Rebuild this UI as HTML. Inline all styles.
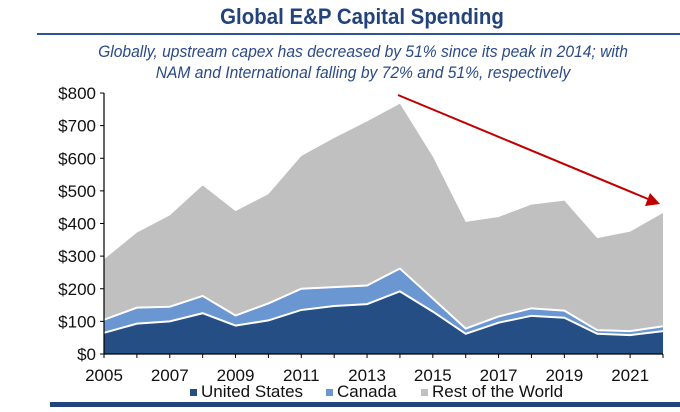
<!DOCTYPE html>
<html><head><meta charset="utf-8"><style>
body{margin:0;background:#fff;width:680px;height:407px;overflow:hidden;font-family:"Liberation Sans",sans-serif}
svg text{font-family:"Liberation Sans",sans-serif}
</style></head><body>
<svg id="c" width="680" height="407">
<text x="362" y="24" text-anchor="middle" font-size="22" font-weight="bold" fill="#23437c" transform="translate(362,0) scale(0.93,1) translate(-362,0)">Global E&amp;P Capital Spending</text>
<rect x="37" y="33" width="643" height="2" fill="#2f5496"/>
<text x="363" y="57" text-anchor="middle" font-size="17" font-style="italic" fill="#2b4a86" transform="translate(363,0) scale(0.92,1) translate(-363,0)">Globally, upstream capex has decreased by 51% since its peak in 2014; with</text>
<text x="363" y="78" text-anchor="middle" font-size="17" font-style="italic" fill="#2b4a86" transform="translate(363,0) scale(0.92,1) translate(-363,0)">NAM and International falling by 72% and 51%, respectively</text>
<g id="plot"></g>
<rect x="50" y="402" width="630" height="5" fill="#23437c"/>
</svg>
<script>
const years=[2005,2006,2007,2008,2009,2010,2011,2012,2013,2014,2015,2016,2017,2018,2019,2020,2021,2022];
const unitedStates=[65,93,100,125,87,103,135,147,153,192,130,62,96,117,111,62,58,70];
const canada=[40,49,45,53,31,52,65,58,57,70,40,16,19,23,22,11,12,15];
const restOfWorld=[185,230,280,339,320,335,407,457,503,505,435,327,305,318,337,282,305,347];
const yTicks=[0,100,200,300,400,500,600,700,800];
const xTickYears=[2005,2007,2009,2011,2013,2015,2017,2019,2021];
const NS='http://www.w3.org/2000/svg';
const g=document.getElementById('plot');
const x0=104,x1=663,yb=354,yt=93;
const X=y=>x0+(y-years[0])/(years[years.length-1]-years[0])*(x1-x0);
const Y=v=>yb-v/800*(yb-yt);
function mk(t,a){const e=document.createElementNS(NS,t);for(const k in a)e.setAttribute(k,a[k]);g.appendChild(e);return e;}
const s1=unitedStates.slice(),s2=unitedStates.map((v,i)=>v+canada[i]),s3=s2.map((v,i)=>v+restOfWorld[i]);
function area(top,bot,fill,name){
  let d='M'+years.map((y,i)=>X(y)+','+Y(top[i])).join('L');
  for(let i=years.length-1;i>=0;i--)d+='L'+X(years[i])+','+Y(bot[i]);
  const p=mk('path',{d:d+'Z',fill:fill});
  
  
}
const zero=years.map(()=>0);
area(s3,s2,'#c0c0c0','area-rest-of-world');
area(s2,s1,'#6a96d2','area-canada');
area(s1,zero,'#254e85','area-united-states');
[s1,s2].forEach((s,k)=>{const l=mk('polyline',{points:years.map((y,i)=>X(y)+','+Y(s[i])).join(' '),fill:'none',stroke:'#fff','stroke-width':2});

});
const ax=mk('path',{d:`M${x0},${yt}V${yb}H${x1}`,fill:'none',stroke:'#000','stroke-width':1.2});


yTicks.forEach(v=>{const t=mk('line',{x1:x0-4,x2:x0,y1:Y(v),y2:Y(v),stroke:'#000'});


const tx=mk('text',{x:x0-8,y:Y(v)+6,'text-anchor':'end','font-size':17,fill:'#111'});tx.textContent='$'+v;

});
years.forEach(y=>{const t=mk('line',{x1:X(y),x2:X(y),y1:yb,y2:yb+4,stroke:'#000'});

});
xTickYears.forEach(y=>{const tx=mk('text',{x:X(y),y:yb+27,'text-anchor':'middle','font-size':17,fill:'#111'});tx.textContent=y;

});
const legend=[['United States','#254e85',190],['Canada','#6a96d2',326],['Rest of the World','#c0c0c0',421]];
legend.forEach(([n,c,lx])=>{const r=mk('rect',{x:lx,y:389,width:7,height:7,fill:c});


const t=mk('text',{x:lx+11,y:397,'font-size':17,fill:'#111'});t.textContent=n;

});
const ar=mk('line',{x1:398,y1:95,x2:648,y2:199,stroke:'#c00000','stroke-width':2});


const ah=mk('polygon',{points:'660,204 645,206 650,193',fill:'#c00000'});


</script>
</body></html>
